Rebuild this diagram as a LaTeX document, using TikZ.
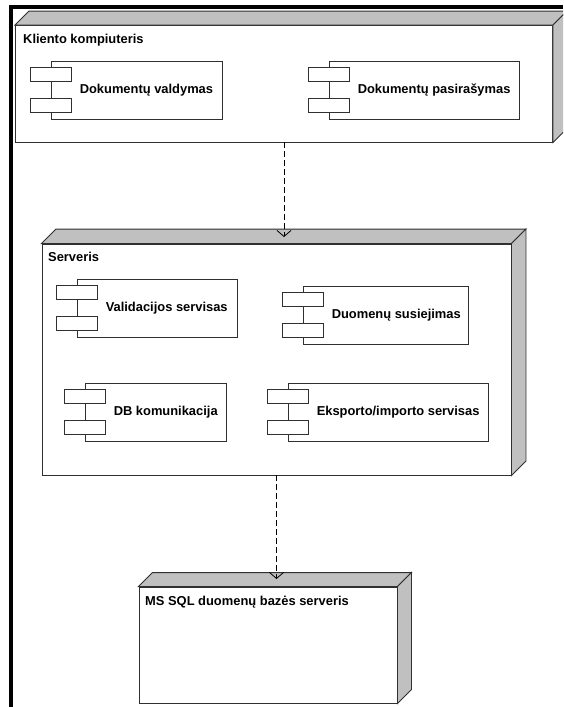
\documentclass[tikz,border=0pt]{standalone}
\usepackage{fontspec}
\setmainfont{Liberation Sans}
\usetikzlibrary{arrows.meta}

\definecolor{facegray}{HTML}{C0C0C0}
\definecolor{edgecol}{HTML}{303030}

\tikzset{
  outline/.style={draw=edgecol, line width=0.9pt},
  nodefront/.style={outline, fill=white, rectangle, inner sep=0pt},
  face/.style={outline, fill=facegray, line join=miter},
  compbox/.style={outline, fill=white, rectangle, inner sep=0pt},
  portbox/.style={outline, fill=white, rectangle, inner sep=0pt,
                  minimum width=41pt, minimum height=14pt},
  titletext/.style={font=\fontsize{12.9}{14}\selectfont\bfseries,
                    inner sep=0pt, anchor=west},
  comptext/.style={font=\fontsize{12.9}{14}\selectfont\bfseries,
                   inner sep=0pt, anchor=west},
  depends/.style={draw=black, line width=0.8pt, dash pattern=on 6pt off 3pt,
                  -{Straight Barb[length=6pt,width=14pt]}},
  frameline/.style={draw=black, line width=4pt, line join=miter}
}

% 3D deployment node: name, x1, y1, x2, y2 (front face), depth
\newcommand\deploynode[6]{%
  \node[nodefront, minimum width={#4-#2}, minimum height={#5-#3}]
    (#1) at ({(#2+#4)/2},{(#3+#5)/2}) {};
  \draw[face] (#1.north west) -- ++(#6,-#6)
    -- ([shift={(#6,-#6)}]#1.north east) -- (#1.north east) -- cycle;
  \draw[face] (#1.north east) -- ++(#6,-#6)
    -- ([shift={(#6,-#6)}]#1.south east) -- (#1.south east) -- cycle;
}

% UML component: name, x1, y1, x2, y2, text
\newcommand\umlcomponent[6]{%
  \node[compbox, minimum width={#4-#2}, minimum height={#5-#3}]
    (#1) at ({(#2+#4)/2},{(#3+#5)/2}) {};
  \node[portbox] (#1-p1) at ([yshift=-14pt]#1.north west) {};
  \node[portbox] (#1-p2) at ([yshift=14.5pt]#1.south west) {};
  \node[comptext] (#1-t) at ([xshift=29pt]#1.west) {#6};
}

\begin{document}
\begin{tikzpicture}[x=1pt, y=-1pt]
  \fill[white] (0,0) rectangle (563,707);
  \clip (0,0) rectangle (563,707);

  % page frame
  \draw[frameline] (563,6.5) -- (11,6.5) -- (11,710);

  % client computer
  \deploynode{client}{15.5}{25.5}{552.5}{142}{14}
  \node[titletext] (client-title) at (23,40) {Kliento kompiuteris};
  \umlcomponent{docmgmt}{51}{61}{222}{119}{Dokumentų valdymas}
  \umlcomponent{docsign}{329}{61}{519}{119}{Dokumentų pasirašymas}

  % application server
  \deploynode{server}{42}{244}{511}{475}{14.5}
  \node[titletext] (server-title) at (48,257) {Serveris};
  \umlcomponent{validation}{77}{279}{237}{337}{Validacijos servisas}
  \umlcomponent{datalink}{303}{286}{468}{344}{Duomenų susiejimas}
  \umlcomponent{dbcomm}{85}{383}{226}{441}{DB komunikacija}
  \umlcomponent{exportimport}{288}{383}{488}{441}{Eksporto/importo servisas}

  % database server
  \deploynode{dbserver}{139}{587}{397}{703}{14}
  \node[titletext] (dbserver-title) at (145,602) {MS SQL duomenų bazės serveris};

  % dependencies
  \coordinate (server-in) at (284,237);
  \draw[depends] (client.south) -- (server-in);
  \coordinate (db-in) at (276.5,579);
  \draw[depends] (server.south) -- (db-in);
\end{tikzpicture}
\end{document}
